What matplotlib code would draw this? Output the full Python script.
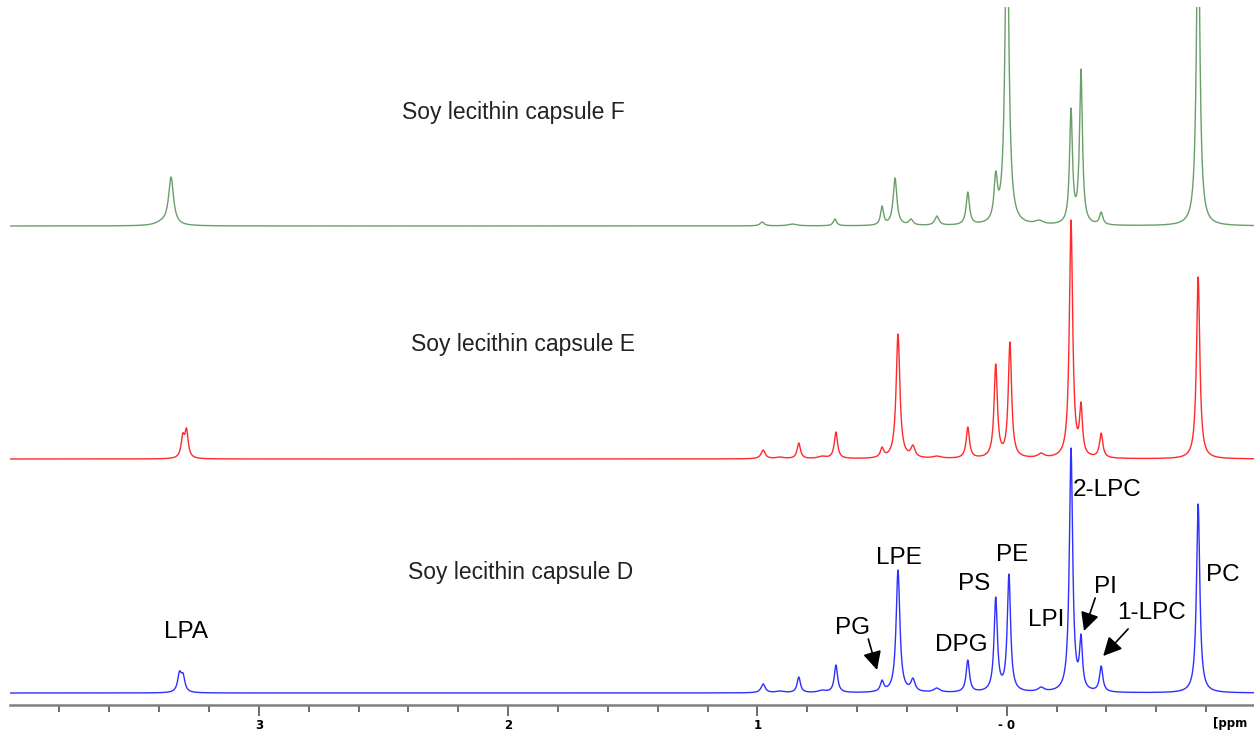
import numpy as np
import matplotlib
matplotlib.use("Agg")
import matplotlib.pyplot as plt
from matplotlib.ticker import MultipleLocator, FixedLocator, FixedFormatter

# peak lists: position (ppm), height above baseline, half width (ppm)
# capsule F (green, top)
f_ppm = [3.39, 3.352, 0.981, 0.86, 0.689, 0.500, 0.448, 0.384, 0.280, 0.156, 0.044, -0.001, -0.130, -0.258, -0.298, -0.379, -0.768]
f_height = [7, 49, 4, 2, 7, 20, 48, 7, 10, 34, 55, 330, 6, 118, 157, 14, 330]
f_width = [0.03, 0.012, 0.01, 0.02, 0.008, 0.007, 0.009, 0.01, 0.01, 0.008, 0.008, 0.009, 0.02, 0.007, 0.007, 0.008, 0.008]

# capsule E (red, middle)
e_ppm = [3.305, 3.29, 0.977, 0.91, 0.834, 0.74, 0.685, 0.500, 0.436, 0.376, 0.280, 0.156, 0.044, -0.013, -0.138, -0.258, -0.298, -0.379, -0.768]
e_height = [26, 31, 9, 2, 16, 3, 27, 12, 125, 14, 3, 32, 95, 117, 6, 239, 57, 26, 182]
e_width = [0.008, 0.008, 0.01, 0.02, 0.008, 0.02, 0.008, 0.008, 0.009, 0.01, 0.02, 0.008, 0.008, 0.008, 0.015, 0.008, 0.007, 0.008, 0.008]

# capsule D (blue, bottom)
d_ppm = [3.318, 3.304, 0.977, 0.91, 0.834, 0.74, 0.685, 0.500, 0.436, 0.376, 0.280, 0.156, 0.044, -0.009, -0.138, -0.258, -0.298, -0.379, -0.768]
d_height = [22, 20, 9, 2, 16, 3, 28, 13, 123, 15, 5, 33, 96, 119, 6, 245, 59, 27, 189]
d_width = [0.009, 0.009, 0.01, 0.02, 0.008, 0.02, 0.008, 0.008, 0.009, 0.01, 0.015, 0.008, 0.008, 0.008, 0.015, 0.008, 0.007, 0.008, 0.008]

offsets = [479, 246, 12]
titles = ["Soy lecithin capsule F", "Soy lecithin capsule E", "Soy lecithin capsule D"]
colors = ["#6a9f6a", "#ff2a2a", "#2f2fff"]

# peak labels on spectrum D
lab_text = ["LPA", "PG", "LPE", "DPG", "PS", "PE", "LPI", "2-LPC", "PI", "1-LPC", "PC"]
lab_x = [3.292, 0.617, 0.432, 0.184, 0.131, -0.021, -0.158, -0.403, -0.395, -0.579, -0.868]
lab_y = [73, 77, 147, 60, 121, 150, 85, 215, 118, 92, 130]

tick_pos = [3, 2, 1, 0]
tick_lab = ["3", "2", "1", "- 0"]


def spectrum(x, pos, hgt, wid):
    pos = np.array(pos)
    wid = np.array(wid)
    # solve for amplitudes so the summed curve hits the read heights at each peak
    m = 1.0 / (1.0 + ((pos[:, None] - pos[None, :]) / wid[None, :]) ** 2)
    amp = np.linalg.solve(m, np.array(hgt, dtype=float))
    y = np.zeros_like(x)
    for p, a, w in zip(pos, amp, wid):
        y += a / (1.0 + ((x - p) / w) ** 2)
    return y


x = np.linspace(4.0, -1.0, 8000)

fig = plt.figure(figsize=(12.54, 7.32), dpi=100)
ax = fig.add_axes([10 / 1254, 27 / 732, 1244 / 1254, 698 / 732])

specs = [(f_ppm, f_height, f_width), (e_ppm, e_height, e_width), (d_ppm, d_height, d_width)]
for (p, h, w), off, c in zip(specs, offsets, colors):
    ax.plot(x, spectrum(x, p, h, w) + off, color=c, lw=1.0)

title_x = [1.98, 1.94, 1.95]
title_y = [592, 360, 132]
for t, tx, ty in zip(titles, title_x, title_y):
    ax.text(tx, ty, t, ha="center", va="center", fontsize=16.5,
            family="Liberation Sans", color="#222222")

for t, lx, ly in zip(lab_text, lab_x, lab_y):
    ax.text(lx, ly, t, ha="center", va="center", fontsize=17.5,
            family="Liberation Sans", color="black")

arrow_kw = dict(arrowstyle="-|>", color="black", lw=1.2, mutation_scale=28, shrinkA=0, shrinkB=0)
ax.annotate("", xy=(0.520, 35), xytext=(0.555, 66), arrowprops=arrow_kw)
ax.annotate("", xy=(-0.310, 74), xytext=(-0.355, 107), arrowprops=arrow_kw)
ax.annotate("", xy=(-0.387, 49), xytext=(-0.487, 76), arrowprops=arrow_kw)

ax.set_xlim(3.998, -0.992)
ax.set_ylim(0, 698)
for s in ["top", "left", "right"]:
    ax.spines[s].set_visible(False)
ax.spines["bottom"].set_color("#808080")
ax.spines["bottom"].set_linewidth(1.8)
ax.set_yticks([])
ax.xaxis.set_major_locator(FixedLocator(tick_pos))
ax.xaxis.set_major_formatter(FixedFormatter(tick_lab))
ax.xaxis.set_minor_locator(MultipleLocator(0.2))
ax.tick_params(axis="x", which="major", length=8, width=1.2, color="#555555", pad=2)
ax.tick_params(axis="x", which="minor", length=5, width=1.2, color="#555555")
for lbl in ax.get_xticklabels():
    lbl.set_fontsize(8.5)
    lbl.set_fontweight("bold")

fig.text(1213 / 1254, 9 / 732, "[ppm", ha="left", va="center", fontsize=8.5, fontweight="bold")

fig.savefig("out.png", dpi=100)
